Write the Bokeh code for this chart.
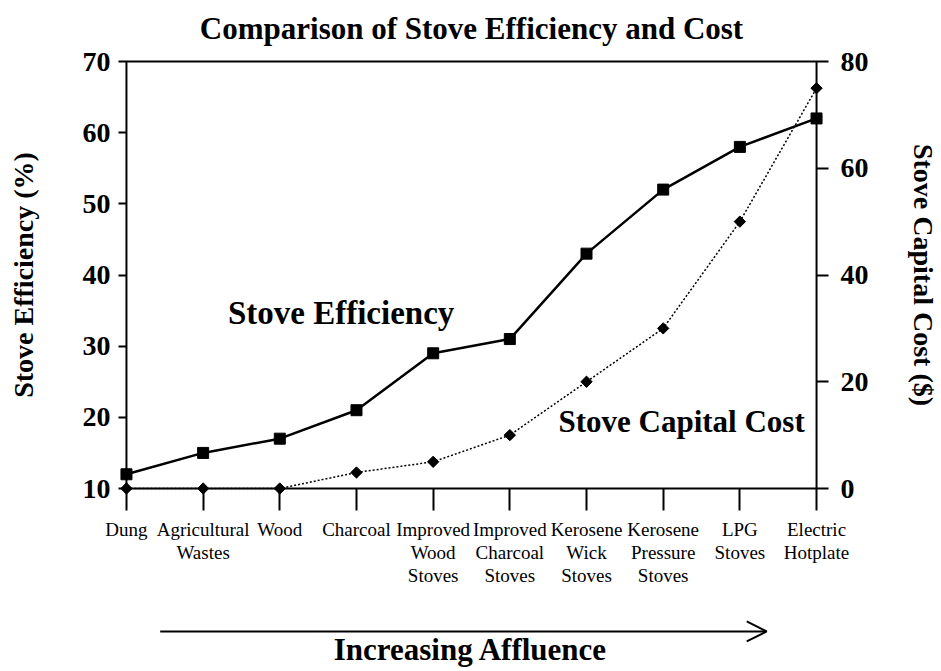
from bokeh.plotting import figure
from bokeh.layouts import column
from bokeh.models import (Range1d, LinearAxis, FixedTicker, Label, Arrow, OpenHead,
                          BoxAnnotation)
from bokeh.embed import file_html
from bokeh.resources import INLINE

categories = ["Dung", "Agricultural\nWastes", "Wood", "Charcoal",
              "Improved\nWood\nStoves", "Improved\nCharcoal\nStoves",
              "Kerosene\nWick\nStoves", "Kerosene\nPressure\nStoves",
              "LPG\nStoves", "Electric\nHotplate"]
efficiency = [12, 15, 17, 21, 29, 31, 43, 52, 58, 62]
capital_cost = [0, 0, 0, 3, 5, 10, 20, 30, 50, 75]
efficiency_ticks = [10, 20, 30, 40, 50, 60, 70]
cost_ticks = [0, 20, 40, 60, 80]

FONT = "Liberation Serif"
x = list(range(len(categories)))
n = len(categories) - 1

# small padding around the data box so edge markers are not clipped
px_x = 8 * n / 694.0
px_e = 8 * 60 / 427.0
px_c = 8 * 80 / 427.0
x_range = Range1d(-px_x, n + px_x)

p = figure(width=941, height=598, output_backend="svg", toolbar_location=None,
           x_range=x_range,
           y_range=Range1d(efficiency_ticks[0] - px_e, efficiency_ticks[-1] + px_e),
           x_axis_location=None, y_axis_location=None,
           min_border_left=118, min_border_right=113,
           min_border_top=53, min_border_bottom=102)
p.extra_y_ranges = {"cost": Range1d(cost_ticks[0] - px_c, cost_ticks[-1] + px_c)}
p.grid.visible = False
p.outline_line_color = None
p.background_fill_color = "white"
p.border_fill_color = "white"

p.title.text = "Comparison of Stove Efficiency and Cost"
p.title.align = "center"
p.title.text_font = FONT
p.title.text_font_size = "31px"
p.title.text_font_style = "bold"
p.title.text_color = "black"
p.title.standoff = 16

def style_axis(ax):
    ax.axis_line_color = None
    ax.major_tick_line_width = 2
    ax.major_tick_line_color = "black"
    ax.minor_tick_line_color = None
    ax.major_label_text_font = FONT
    ax.major_label_text_color = "black"
    ax.axis_label_text_font = FONT
    ax.axis_label_text_font_style = "bold"
    ax.axis_label_text_font_size = "28px"
    ax.axis_label_text_color = "black"

xaxis = LinearAxis(ticker=FixedTicker(ticks=x),
                   major_label_overrides={i: c for i, c in enumerate(categories)})
style_axis(xaxis)
xaxis.major_tick_in = 8
xaxis.major_tick_out = 14
xaxis.major_label_text_font_size = "19px"
xaxis.major_label_text_line_height = 1.1
xaxis.major_label_standoff = 8
p.add_layout(xaxis, "below")

yleft = LinearAxis(ticker=FixedTicker(ticks=efficiency_ticks),
                   axis_label="Stove Efficiency (%)")
style_axis(yleft)
yleft.major_tick_in = 8
yleft.major_tick_out = 0
yleft.major_label_text_font_size = "28px"
yleft.major_label_text_font_style = "bold"
yleft.major_label_standoff = 8
yleft.axis_label_standoff = 41
p.add_layout(yleft, "left")

yright = LinearAxis(ticker=FixedTicker(ticks=cost_ticks), y_range_name="cost",
                    axis_label="Stove Capital Cost ($)")
style_axis(yright)
yright.major_tick_in = 8
yright.major_tick_out = 4
yright.major_label_text_font_size = "28px"
yright.major_label_text_font_style = "bold"
yright.major_label_standoff = 12
yright.axis_label_standoff = 36
p.add_layout(yright, "right")

# the data box (axis lines)
p.add_layout(BoxAnnotation(left=0, right=n, bottom=efficiency_ticks[0],
                           top=efficiency_ticks[-1], fill_color=None, fill_alpha=0,
                           line_color="black", line_alpha=1.0, line_width=2,
                           level="underlay"))

p.line(x, capital_cost, y_range_name="cost", line_color="black",
       line_width=1.5, line_dash="2 2")
p.scatter(x, capital_cost, y_range_name="cost", marker="square", angle=0.785,
          size=8, color="black")
p.line(x, efficiency, line_color="black", line_width=2.5)
p.scatter(x, efficiency, marker="square", size=11, color="black")

p.add_layout(Label(x=2.8, y=34.7, text="Stove Efficiency", text_font=FONT,
                   text_font_size="33px", text_font_style="bold",
                   text_align="center", text_baseline="middle", text_color="black"))
p.add_layout(Label(x=7.24, y=12.5, y_range_name="cost", text="Stove Capital Cost",
                   text_font=FONT, text_font_size="31px", text_font_style="bold",
                   text_align="center", text_baseline="middle", text_color="black"))

# bottom strip: arrow and "Increasing Affluence"
p2 = figure(width=941, height=72, output_backend="svg", toolbar_location=None,
            x_range=x_range, y_range=Range1d(0, 1),
            x_axis_location=None, y_axis_location=None,
            min_border_left=118, min_border_right=113,
            min_border_top=0, min_border_bottom=0)
p2.grid.visible = False
p2.outline_line_color = None
p2.add_layout(Arrow(x_start=0.44, y_start=0.542, x_end=8.35, y_end=0.542,
                    line_width=2, line_color="black",
                    end=OpenHead(size=20, line_width=2, line_color="black")))
p2.add_layout(Label(x=4.49, y=0.29, text="Increasing Affluence", text_font=FONT,
                    text_font_size="31px", text_font_style="bold",
                    text_align="center", text_baseline="alphabetic", text_color="black"))

layout = column(p, p2, spacing=0)
open("out.html", "w").write(file_html(layout, INLINE))
